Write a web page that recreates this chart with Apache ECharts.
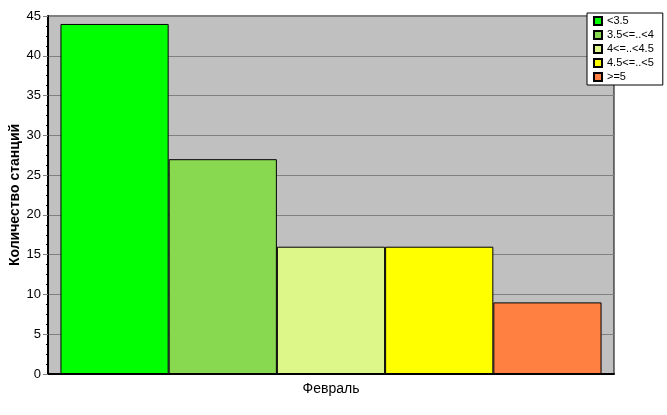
<!DOCTYPE html>
<html>
<head>
<meta charset="utf-8">
<script src="https://cdn.jsdelivr.net/npm/echarts@6/dist/echarts.min.js"></script>
<style>html,body{margin:0;padding:0;background:#fff;}#c{width:667px;height:415px;}</style>
</head>
<body>
<div id="c"></div>
<script>
var categories = ['Февраль'];
var seriesNames = ['<3.5', '3.5<=..<4', '4<=..<4.5', '4.5<=..<5', '>=5'];
var seriesValues = [44, 27, 16, 16, 9];
var seriesColors = ['#00FF00', '#88D850', '#DDF888', '#FFFF00', '#FF8040'];
var yTicks = { min: 0, max: 45, interval: 5 };

var chart = echarts.init(document.getElementById('c'));
var font = 'Liberation Sans, Arial, sans-serif';
var series = seriesNames.map(function (n, i) {
  return {
    name: n,
    type: 'bar',
    data: [seriesValues[i]],
    barGap: '0%',
    barCategoryGap: '4.4%',
    itemStyle: { color: seriesColors[i], borderColor: '#000', borderWidth: 1 },
    emphasis: { disabled: true },
    animation: false
  };
});
chart.setOption({
  animation: false,
  textStyle: { fontFamily: font },
  grid: { left: 48, right: 53, top: 16, bottom: 41, show: true, outerBoundsMode: 'none', containLabel: false, backgroundColor: '#C0C0C0', borderColor: '#000', borderWidth: 1 },
  legend: {
    orient: 'vertical', left: 587, top: 13,
    backgroundColor: '#fff', borderColor: '#000', borderWidth: 1,
    padding: [2, 9, 2, 6], itemWidth: 8, itemHeight: 8, itemGap: 2,
    icon: 'rect',
    textStyle: { fontSize: 11, color: '#000', fontFamily: font, lineHeight: 12 },
    data: seriesNames
  },
  xAxis: {
    type: 'category', data: categories,
    axisLine: { lineStyle: { color: '#000', width: 2 } },
    axisTick: { alignWithLabel: true, length: 5, lineStyle: { color: '#808080' } },
    axisLabel: { fontSize: 14, color: '#000', margin: 8 }
  },
  yAxis: {
    type: 'value', min: yTicks.min, max: yTicks.max, interval: yTicks.interval,
    name: 'Количество станций', nameLocation: 'middle', nameGap: 26, nameMoveOverlap: false,
    nameTextStyle: { fontSize: 14, fontWeight: 'bold', color: '#000' },
    axisLine: { show: true, lineStyle: { color: '#000', width: 2 } },
    axisTick: { show: true, length: 5, lineStyle: { color: '#808080' } },
    minorTick: { show: true, splitNumber: 4, length: 2, lineStyle: { color: '#000' } },
    axisLabel: { fontSize: 13, color: '#000', margin: 7 },
    splitLine: { lineStyle: { color: '#808080', width: 1 } }
  },
  series: series
});
</script>
</body>
</html>
